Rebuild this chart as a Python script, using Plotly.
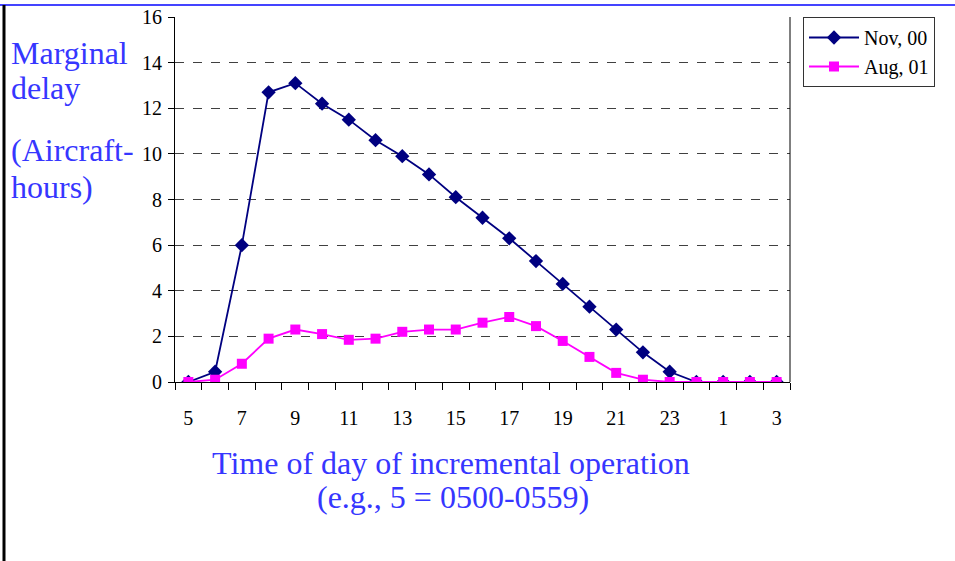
import plotly.graph_objects as go

hours = ["5", "6", "7", "8", "9", "10", "11", "12", "13", "14", "15", "16",
         "17", "18", "19", "20", "21", "22", "23", "0", "1", "2", "3"]
nov_00 = [0, 0.45, 6.0, 12.7, 13.1, 12.2, 11.5, 10.6, 9.9, 9.1, 8.1, 7.2,
          6.3, 5.3, 4.3, 3.3, 2.3, 1.3, 0.45, 0, 0, 0, 0]
aug_01 = [0, 0.1, 0.8, 1.9, 2.3, 2.1, 1.85, 1.9, 2.2, 2.3, 2.3, 2.6,
          2.85, 2.45, 1.8, 1.1, 0.4, 0.1, 0.0, 0, 0, 0, 0]
y_ticks = [0, 2, 4, 6, 8, 10, 12, 14, 16]

idx = list(range(len(hours)))
FONT = "Liberation Serif, Times New Roman, serif"
BLUE = "#3636FF"

# plot area in pixels (reference)
L, R, T, B = 175, 790, 17, 382
def px(xp):
    return (xp - L) / (R - L)
def py(yp):
    return (B - yp) / (B - T)

fig = go.Figure()
fig.add_trace(go.Scatter(x=idx, y=nov_00, name="Nov, 00", mode="lines+markers",
                         line=dict(color="#000080", width=1.8),
                         marker=dict(symbol="diamond", size=11, color="#000080")))
fig.add_trace(go.Scatter(x=idx, y=aug_01, name="Aug, 01", mode="lines+markers",
                         line=dict(color="#FF00FF", width=1.8),
                         marker=dict(symbol="square", size=10, color="#FF00FF")))

fig.update_layout(
    width=955, height=561,
    margin=dict(l=L, r=955 - R, t=T, b=561 - B, autoexpand=False),
    paper_bgcolor="white", plot_bgcolor="white",
    font=dict(family=FONT, size=20, color="black"),
    showlegend=True,
    legend=dict(x=px(803), y=1, xanchor="left", yanchor="top",
                bordercolor="#333333", borderwidth=1,
                font=dict(family=FONT, size=20, color="black"),
                itemwidth=50, tracegroupgap=0),
    xaxis=dict(range=[-0.5, len(hours) - 0.5],
               tickvals=idx[::2], ticktext=hours[::2],
               ticks="", showgrid=False, zeroline=False,
               showline=True, linecolor="black", linewidth=1,
               tickfont=dict(family=FONT, size=20),
               ticklabelstandoff=18,
               minor=dict(tick0=-0.5, dtick=1, ticks="outside", ticklen=7,
                          tickcolor="black", showgrid=False)),
    yaxis=dict(range=[0, 16], tickvals=y_ticks,
               ticks="outside", ticklen=6, tickcolor="black",
               showline=True, linecolor="black", linewidth=1,
               showgrid=True, gridcolor="#404040", griddash="dash", gridwidth=1,
               zeroline=False, ticklabelstandoff=2,
               tickfont=dict(family=FONT, size=20)),
)

# right border of plot area
fig.add_shape(type="line", xref="paper", yref="paper", x0=1, x1=1, y0=0, y1=1,
              line=dict(color="black", width=1))
# frame lines of the slide
fig.add_shape(type="line", xref="paper", yref="paper", x0=px(-10), x1=px(1000),
              y0=py(5), y1=py(5), line=dict(color="#4444FF", width=2))
fig.add_shape(type="line", xref="paper", yref="paper", x0=px(4), x1=px(4),
              y0=py(600), y1=py(5), line=dict(color="black", width=3))

side = [("Marginal", 53), ("delay", 88), ("(Aircraft-", 150), ("hours)", 187)]
for txt, yc in side:
    fig.add_annotation(text=txt, xref="paper", yref="paper", x=px(9), y=py(yc),
                       xanchor="left", yanchor="middle", showarrow=False,
                       font=dict(family=FONT, size=32, color=BLUE))
bottom = [("Time of day of incremental operation", 451, 463),
          ("(e.g., 5 = 0500-0559)", 453, 497)]
for txt, xc, yc in bottom:
    fig.add_annotation(text=txt, xref="paper", yref="paper", x=px(xc), y=py(yc),
                       xanchor="center", yanchor="middle", showarrow=False,
                       font=dict(family=FONT, size=32, color=BLUE))

fig.write_html("out.html", config={"displayModeBar": False},
               post_script="document.body.style.margin='0px';")
